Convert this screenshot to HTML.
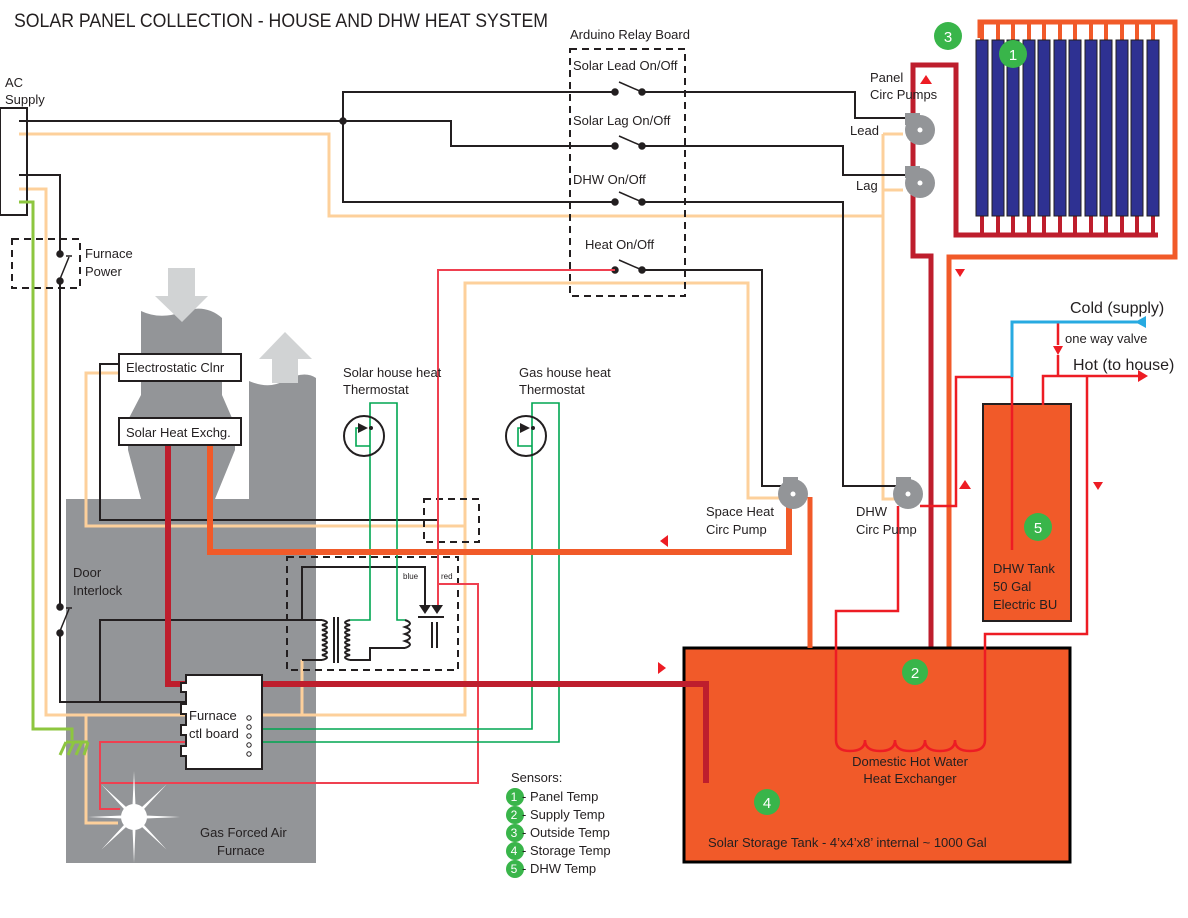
<!DOCTYPE html>
<html><head><meta charset="utf-8"><style>
html,body{margin:0;padding:0;background:#fff;}
svg{display:block;font-family:"Liberation Sans",sans-serif;}
text{fill:#231f20;}
</style></head><body>
<svg width="1188" height="918" viewBox="0 0 1188 918" xmlns="http://www.w3.org/2000/svg">
<g fill="#939598">
<rect x="66" y="499" width="250" height="364"/>
<path d="M141,311 Q160,320 182,312 Q205,303 222,318 L222,395 L235,425 L235,450 L215,499 L141,499 L128,450 L128,420 L141,395 Z"/>
<path d="M249,381 Q270,390 285,380 Q305,370 316,378 L316,499 L249,499 Z"/>
</g>
<g fill="#d1d3d4">
<path d="M168,268 L195,268 L195,296 L208,296 L182,322 L155,296 L168,296 Z"/>
<path d="M285,332 L312,359 L298,359 L298,383 L272,383 L272,359 L259,359 Z"/>
</g>
<text x="14" y="27" font-size="19" textLength="534" lengthAdjust="spacingAndGlyphs">SOLAR PANEL COLLECTION - HOUSE AND DHW HEAT SYSTEM</text>

<g fill="none">
<path d="M980,38 L980,22 L1175,22 L1175,257 L949,257 L949,660" stroke="#f15a29" stroke-width="5"/>
<path d="M931,660 L931,256 L913,256 L913,65 L956,65 L956,235 L1158,235" stroke="#be1e2d" stroke-width="5"/>
</g>
<g>
<g stroke="#f15a29" stroke-width="4">
<line x1="982" y1="22" x2="982" y2="40"/><line x1="998" y1="22" x2="998" y2="40"/><line x1="1013" y1="22" x2="1013" y2="40"/><line x1="1029" y1="22" x2="1029" y2="40"/><line x1="1044" y1="22" x2="1044" y2="40"/><line x1="1060" y1="22" x2="1060" y2="40"/><line x1="1075" y1="22" x2="1075" y2="40"/><line x1="1091" y1="22" x2="1091" y2="40"/><line x1="1106" y1="22" x2="1106" y2="40"/><line x1="1122" y1="22" x2="1122" y2="40"/><line x1="1137" y1="22" x2="1137" y2="40"/><line x1="1153" y1="22" x2="1153" y2="40"/>
</g>
<g stroke="#be1e2d" stroke-width="4">
<line x1="982" y1="215" x2="982" y2="235"/><line x1="998" y1="215" x2="998" y2="235"/><line x1="1013" y1="215" x2="1013" y2="235"/><line x1="1029" y1="215" x2="1029" y2="235"/><line x1="1044" y1="215" x2="1044" y2="235"/><line x1="1060" y1="215" x2="1060" y2="235"/><line x1="1075" y1="215" x2="1075" y2="235"/><line x1="1091" y1="215" x2="1091" y2="235"/><line x1="1106" y1="215" x2="1106" y2="235"/><line x1="1122" y1="215" x2="1122" y2="235"/><line x1="1137" y1="215" x2="1137" y2="235"/><line x1="1153" y1="215" x2="1153" y2="235"/>
</g>
</g>
<g fill="#2e3192" stroke="#231f20" stroke-width="1">
<rect x="976" y="40" width="12" height="176"/><rect x="992" y="40" width="12" height="176"/><rect x="1007" y="40" width="12" height="176"/><rect x="1023" y="40" width="12" height="176"/><rect x="1038" y="40" width="12" height="176"/><rect x="1054" y="40" width="12" height="176"/><rect x="1069" y="40" width="12" height="176"/><rect x="1085" y="40" width="12" height="176"/><rect x="1100" y="40" width="12" height="176"/><rect x="1116" y="40" width="12" height="176"/><rect x="1131" y="40" width="12" height="176"/><rect x="1147" y="40" width="12" height="176"/>
</g>

<rect x="684" y="648" width="386" height="214" fill="#f15a29" stroke="#000" stroke-width="3"/>
<rect x="983" y="404" width="88" height="217" fill="#f15a29" stroke="#231f20" stroke-width="2"/>

<g fill="none" stroke="#fdd09b" stroke-width="3">
<path d="M19,134 L329,134 L329,216 L883,216"/>
<path d="M883,134 L883,499 L902,499"/>
<path d="M883,134 L903,134"/>
<path d="M883,190 L903,190"/>
<path d="M19,189 L46,189 L46,715 L465,715 L465,283 L748,283 L748,498 L780,498"/>
<path d="M119,373 L86,373 L86,526 L465,526"/>
<path d="M86,715 L86,823 L118,823"/>
<path d="M302,660 L302,715"/>
</g>
<g fill="none" stroke="#231f20" stroke-width="2">
<rect x="0" y="108" width="27" height="107"/>
<path d="M19,121 L343,121 L343,92 L615,92"/>
<path d="M642,92 L855,92 L855,118 L907,118"/>
<path d="M343,121 L451,121 L451,146 L615,146"/>
<path d="M642,146 L843,146 L843,175 L907,175"/>
<path d="M343,121 L343,202 L615,202"/>
<path d="M642,202 L843,202 L843,486 L900,486"/>
<path d="M642,270 L762,270 L762,486 L782,486"/>
<path d="M19,175 L60,175 L60,254"/>
<path d="M60,281 L60,607"/>
<path d="M60,633 L60,702 L185,702"/>
<path d="M100,702 L100,620 L322,620"/>
<path d="M302,620 L302,567 L425,567 L425,605"/>
<path d="M119,364 L100,364 L100,520 L437,520"/>
<path d="M322,660 L302,660"/>
<path d="M350,660 L370,660 L370,648 L405,648"/>
<path d="M418,617 L444,617 M432,622 L432,648 M437,622 L437,648"/>
<path d="M322,620 q10,2.5 0,5 q10,2.5 0,5 q10,2.5 0,5 q10,2.5 0,5 q10,2.5 0,5 q10,2.5 0,5 q10,2.5 0,5 q10,2.5 0,5" />
<path d="M334,617 L334,663 M338,617 L338,663"/>
<path d="M350,620 q-10,2.5 0,5 q-10,2.5 0,5 q-10,2.5 0,5 q-10,2.5 0,5 q-10,2.5 0,5 q-10,2.5 0,5 q-10,2.5 0,5 q-10,2.5 0,5"/>
<path d="M405,620 q10,3.5 0,7 q10,3.5 0,7 q10,3.5 0,7 q10,3.5 0,7"/>
</g>
<path d="M419,605 L431,605 L425,614 Z M431,605 L443,605 L437,614 Z" fill="#231f20"/>
<g fill="none" stroke="#231f20" stroke-width="2" stroke-dasharray="7,5">
<rect x="570" y="49" width="115" height="247"/>
<rect x="12" y="239" width="68" height="49"/>
<rect x="424" y="499" width="55" height="43"/>
<rect x="287" y="557" width="171" height="113"/>
</g>
<g fill="#231f20" stroke="#231f20" stroke-width="1.5">
<circle cx="615" cy="92" r="3"/><circle cx="642" cy="92" r="3"/><line x1="619" y1="82" x2="642" y2="92"/>
<circle cx="615" cy="146" r="3"/><circle cx="642" cy="146" r="3"/><line x1="619" y1="136" x2="642" y2="146"/>
<circle cx="615" cy="202" r="3"/><circle cx="642" cy="202" r="3"/><line x1="619" y1="192" x2="642" y2="202"/>
<circle cx="615" cy="270" r="3"/><circle cx="642" cy="270" r="3"/><line x1="619" y1="260" x2="642" y2="270"/>
<circle cx="343" cy="121" r="3"/>
<circle cx="60" cy="254" r="3"/><circle cx="60" cy="281" r="3"/><line x1="60" y1="279" x2="69" y2="257"/><line x1="66" y1="256" x2="72" y2="256"/>
<circle cx="60" cy="607" r="3"/><circle cx="60" cy="633" r="3"/><line x1="60" y1="631" x2="69" y2="609"/><line x1="66" y1="608" x2="72" y2="608"/>
</g>
<g fill="none" stroke="#ef4050" stroke-width="2">
<path d="M615,270 L438,270 L438,605"/>
<path d="M438,584 L478,584 L478,783 L100,783"/>
<path d="M185,742 L100,742 L100,809 L120,809"/>
</g>
<g fill="none" stroke="#00a651" stroke-width="1.6">
<path d="M350,620 L370,620 L370,403 L397,403 L397,620 L405,620"/>
<path d="M262,729 L532,729 L532,403 L559,403 L559,742 L262,742"/>
</g>
<path d="M19,202 L33,202 L33,729 L72,729 L72,740" fill="none" stroke="#8dc63f" stroke-width="3"/>
<g stroke="#8dc63f" stroke-width="3" fill="none">
<line x1="66" y1="742" x2="88" y2="742"/><line x1="66" y1="742" x2="60" y2="755"/><line x1="74" y1="742" x2="68" y2="755"/><line x1="82" y1="742" x2="76" y2="755"/><line x1="88" y1="742" x2="84" y2="755"/>
</g>

<g fill="none" stroke="#231f20" stroke-width="2"><circle cx="364" cy="436" r="20"/><circle cx="526" cy="436" r="20"/></g>
<g fill="none" stroke="#00a651" stroke-width="1.6">
<path d="M370,446 L356,446 L356,428 L362,428"/><path d="M532,446 L518,446 L518,428 L524,428"/>
</g>
<g fill="#231f20"><path d="M358,423 L368,428 L358,433 Z"/><circle cx="371" cy="428" r="2"/><path d="M520,423 L530,428 L520,433 Z"/><circle cx="533" cy="428" r="2"/></g>

<path d="M168,446 L168,684 L706,684 L706,783" fill="none" stroke="#be1e2d" stroke-width="6"/>
<path d="M210,446 L210,552 L789,552 L789,500" fill="none" stroke="#f15a29" stroke-width="6"/>
<path d="M810,497 L810,648" fill="none" stroke="#f15a29" stroke-width="5"/>

<g fill="none" stroke="#ed1c24" stroke-width="2.5">
<path d="M920,506 L956,506 L956,377 L1012,377 L1012,550"/>
<path d="M898,506 L898,611 L836,611 L836,740"/>
<path d="M1058,322 L1058,345 M1058,355 L1058,377"/>
<path d="M1043,405 L1043,376 L1138,376"/>
<path d="M1087,376 L1087,634 L985,634 L985,740"/>
<path d="M836,740 q0,11 14,11 q15,0 15,-11 q0,11 15,11 q15,0 15,-11 q0,11 15,11 q15,0 15,-11 q0,11 15,11 q15,0 15,-11 q0,11 15,11 q15,0 15,-11"/>
</g>
<path d="M1140,322 L1012,322 L1012,377" fill="none" stroke="#27aae1" stroke-width="3"/>
<path d="M1135,322 L1146,316 L1146,328 Z" fill="#27aae1"/>
<g fill="#ed1c24">
<path d="M1053,346 L1063,346 L1058,355 Z"/>
<path d="M1138,370 L1148,376 L1138,382 Z"/>
<path d="M926,75 L932,84 L920,84 Z"/>
<path d="M955,269 L965,269 L960,277 Z"/>
<path d="M660,541 L668,535 L668,547 Z"/>
<path d="M658,662 L666,668 L658,674 Z"/>
<path d="M965,480 L971,489 L959,489 Z"/>
<path d="M1093,482 L1103,482 L1098,490 Z"/>
</g>

<g fill="#939598">
<g transform="translate(920,130)"><circle r="15"/><rect x="-15" y="-17" width="15" height="12"/></g>
<g transform="translate(920,183)"><circle r="15"/><rect x="-15" y="-17" width="15" height="12"/></g>
<g transform="translate(793,494)"><circle r="15"/><rect x="-10" y="-17" width="15" height="12"/></g>
<g transform="translate(908,494)"><circle r="15"/><rect x="-12" y="-17" width="15" height="12"/></g>
</g>
<g fill="#fff"><circle cx="920" cy="130" r="2.5"/><circle cx="920" cy="183" r="2.5"/><circle cx="793" cy="494" r="2.5"/><circle cx="908" cy="494" r="2.5"/></g>

<g fill="#fff" stroke="#231f20" stroke-width="2">
<rect x="119" y="354" width="122" height="27"/>
<rect x="119" y="418" width="122" height="27"/>
<path d="M186,675 L262,675 L262,769 L186,769 L186,756 L181,756 L181,746 L186,746 L186,735 L181,735 L181,725 L186,725 L186,714 L181,714 L181,704 L186,704 L186,692 L181,692 L181,683 L186,683 Z"/>
</g>
<g fill="none" stroke="#231f20" stroke-width="1"><circle cx="249" cy="718" r="2.2"/><circle cx="249" cy="727" r="2.2"/><circle cx="249" cy="736" r="2.2"/><circle cx="249" cy="745" r="2.2"/><circle cx="249" cy="754" r="2.2"/></g>
<g fill="#fff" transform="translate(134,817)">
<circle r="13"/>
<path d="M-2,0 L0,-46 L2,0 Z"/><path d="M-2,0 L0,46 L2,0 Z"/><path d="M0,-2 L46,0 L0,2 Z"/><path d="M0,-2 L-46,0 L0,2 Z"/>
<path d="M-2,0 L0,-46 L2,0 Z" transform="rotate(45)"/><path d="M-2,0 L0,-46 L2,0 Z" transform="rotate(135)"/><path d="M-2,0 L0,-46 L2,0 Z" transform="rotate(225)"/><path d="M-2,0 L0,-46 L2,0 Z" transform="rotate(315)"/>
</g>

<g fill="#39b54a"><circle cx="948" cy="36" r="14"/><circle cx="1013" cy="54" r="14"/><circle cx="915" cy="672" r="13"/><circle cx="767" cy="802" r="13"/><circle cx="1038" cy="527" r="14"/>
<circle cx="515" cy="797" r="9"/><circle cx="515" cy="815" r="9"/><circle cx="515" cy="833" r="9"/><circle cx="515" cy="851" r="9"/><circle cx="515" cy="869" r="9"/></g>
<g font-size="15" text-anchor="middle">
<text x="948" y="42" style="fill:#fff">3</text><text x="1013" y="60" style="fill:#fff">1</text><text x="915" y="678" style="fill:#fff">2</text><text x="767" y="808" style="fill:#fff">4</text><text x="1038" y="533" style="fill:#fff">5</text>
</g>
<g font-size="12" text-anchor="middle"><text x="514" y="801" style="fill:#fff">1</text><text x="514" y="819" style="fill:#fff">2</text><text x="514" y="837" style="fill:#fff">3</text><text x="514" y="855" style="fill:#fff">4</text><text x="514" y="873" style="fill:#fff">5</text></g>

<g font-size="13">
<text x="5" y="87">AC</text><text x="5" y="104">Supply</text>
<text x="570" y="39">Arduino Relay Board</text>
<text x="573" y="70">Solar Lead On/Off</text>
<text x="573" y="125">Solar Lag On/Off</text>
<text x="573" y="184">DHW On/Off</text>
<text x="585" y="249">Heat On/Off</text>
<text x="85" y="258">Furnace</text><text x="85" y="276">Power</text>
<text x="126" y="372">Electrostatic Clnr</text>
<text x="126" y="437">Solar Heat Exchg.</text>
<text x="343" y="377">Solar house heat</text><text x="343" y="394">Thermostat</text>
<text x="519" y="377">Gas house heat</text><text x="519" y="394">Thermostat</text>
<text x="870" y="82">Panel</text><text x="870" y="99">Circ Pumps</text>
<text x="850" y="135">Lead</text><text x="856" y="190">Lag</text>
<text x="706" y="516">Space Heat</text><text x="706" y="534">Circ Pump</text>
<text x="856" y="516">DHW</text><text x="856" y="534">Circ Pump</text>
<text x="993" y="573">DHW Tank</text><text x="993" y="591">50 Gal</text><text x="993" y="609">Electric BU</text>
<text x="73" y="577">Door</text><text x="73" y="595">Interlock</text>
<text x="189" y="720">Furnace</text><text x="189" y="738">ctl board</text>
<text x="200" y="837">Gas Forced Air</text><text x="217" y="855">Furnace</text>
<text x="910" y="766" text-anchor="middle">Domestic Hot Water</text><text x="910" y="783" text-anchor="middle">Heat Exchanger</text>
<text x="708" y="847">Solar Storage Tank - 4’x4’x8’ internal ~ 1000 Gal</text>
<text x="511" y="782">Sensors:</text>
<text x="522" y="801">- Panel Temp</text><text x="522" y="819">- Supply Temp</text><text x="522" y="837">- Outside Temp</text><text x="522" y="855">- Storage Temp</text><text x="522" y="873">- DHW Temp</text>
<text x="1065" y="343">one way valve</text>
</g>
<g font-size="16"><text x="1070" y="313">Cold (supply)</text><text x="1073" y="370">Hot (to house)</text></g>
<g font-size="8"><text x="403" y="579">blue</text><text x="441" y="579">red</text></g>
</svg>
</body></html>
